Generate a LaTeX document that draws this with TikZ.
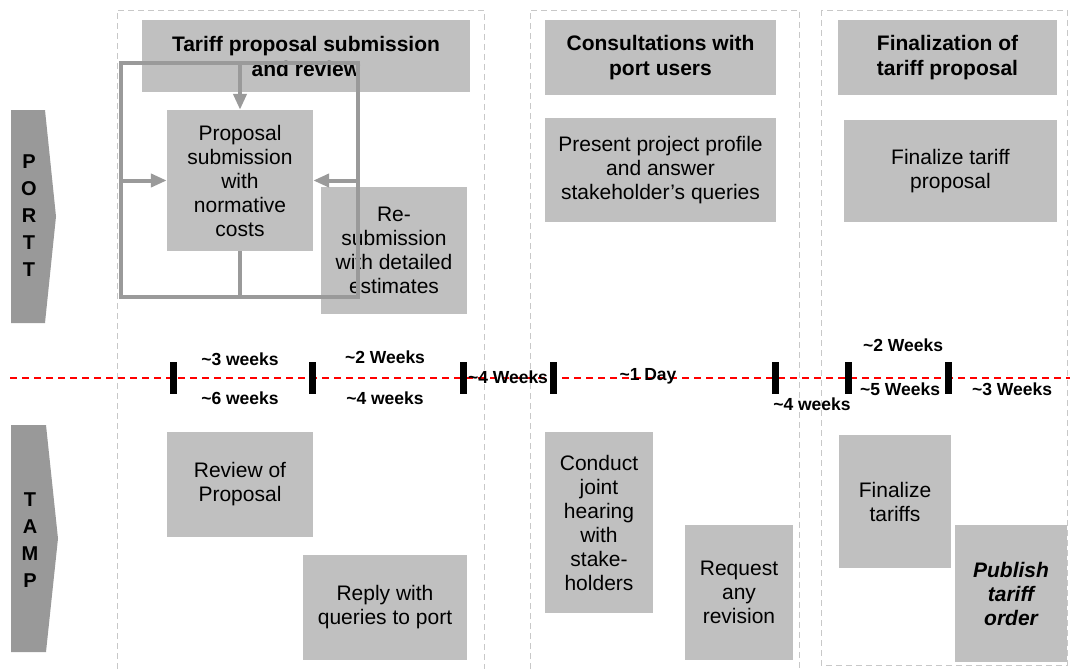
\documentclass[tikz,border=0pt]{standalone}
\usepackage{fontspec}
\setmainfont{Liberation Sans}
\usepackage{xcolor}
\usepackage{tikz}
\usetikzlibrary{positioning,arrows.meta}

\definecolor{boxgray}{HTML}{C0C0C0}
\definecolor{lanegray}{HTML}{999999}
\definecolor{loopgray}{HTML}{9A9A9A}
\definecolor{framegray}{HTML}{C8C8C8}
\newcommand{\appr}{\textasciitilde}

\begin{document}
\begin{tikzpicture}[
  x=1pt, y=-1pt,
  box/.style={rectangle, fill=boxgray, inner sep=0pt, align=center, font=\fontsize{21}{24}\selectfont},
  headbox/.style={box, font=\bfseries\fontsize{21}{25}\selectfont},
  lane/.style={fill=lanegray},
  lanetext/.style={align=center, inner sep=0pt, font=\bfseries\fontsize{20}{27}\selectfont},
  colframe/.style={draw=framegray, dash pattern=on 6pt off 4pt, line width=0.9pt},
  timeline/.style={draw=red, dash pattern=on 7pt off 5pt, line width=1.5pt},
  tickbar/.style={rectangle, fill=black, inner sep=0pt, minimum width=7pt, minimum height=32pt},
  dur/.style={font=\bfseries\fontsize{17.5}{19}\selectfont, inner sep=0pt},
  loopline/.style={draw=loopgray, line width=4pt},
  looparrow/.style={loopline, -{Triangle[length=16pt, width=13pt]}}
  ]
  \useasboundingbox (0,0) rectangle (1070,669);

  % column frames
  \draw[colframe] (117,669) |- (484,10) -- (484,669);
  \draw[colframe] (530,669) |- (799,10) -- (799,669);
  \draw[colframe] (821,10) rectangle (1067,665);

  % lanes
  \fill[lane] (11,110) -- (45,110) -- (56,216.5) -- (45,323) -- (11,323) -- cycle;
  \fill[lane] (11,425) -- (46,425) -- (58,538.5) -- (46,652) -- (11,652) -- cycle;
  \node[lanetext] (portt) at (29,216) {P\\O\\R\\T\\T};
  \node[lanetext] (tamp) at (30,540) {T\\A\\M\\P};

  % headers
  \node[headbox, minimum width=328pt, minimum height=72pt] (head1) at (306,56) {Tariff proposal submission\\and review};
  \node[headbox, minimum width=231pt, minimum height=75pt] (head2) at (660.5,57.5) {Consultations with\\port users};
  \node[headbox, minimum width=219pt, minimum height=75pt] (head3) at (947.5,57.5) {Finalization of\\tariff proposal};

  % port activities
  \node[box, minimum width=146pt, minimum height=141pt] (prop) at (240,180.5) {Proposal\\submission\\with\\normative\\costs};
  \node[box, minimum width=146pt, minimum height=127pt] (resub) at (394,250.5) {Re-\\submission\\with detailed\\estimates};
  \node[box, minimum width=231pt, minimum height=104pt] (present) at (660.5,170) {Present project profile\\and answer\\stakeholder’s queries};
  \node[box, minimum width=213pt, minimum height=102pt] (finprop) at (950.5,171) {Finalize tariff\\proposal};

  % review loop
  \coordinate (fnw) at (121,63);
  \coordinate (fse) at (358,297);
  \draw[loopline] (fnw) rectangle (fse);
  \draw[loopline] (prop.south) -- (prop.south |- fse);
  \draw[looparrow] (prop.north |- fnw) -- (prop.north);
  \draw[looparrow] (prop.west -| fnw) -- (prop.west);
  \draw[looparrow] (prop.east -| fse) -- (prop.east);

  % timeline
  \coordinate (tlstart) at (10,378);
  \coordinate (tlend) at (1070,378);
  \draw[timeline] (tlstart) -- (tlend);
  \node[tickbar] (t1) at (173,378) {};
  \node[tickbar] (t2) at (312,378) {};
  \node[tickbar] (t3) at (463,378) {};
  \node[tickbar] (t4) at (553,378) {};
  \node[tickbar] (t5) at (775,378) {};
  \node[tickbar] (t6) at (848,378) {};
  \node[tickbar] (t7) at (948,378) {};
  \node[dur] (d1a) at (240,359) {\appr3 weeks};
  \node[dur] (d1b) at (240,398) {\appr6 weeks};
  \node[dur] (d2a) at (385,357) {\appr2 Weeks};
  \node[dur] (d2b) at (385,398) {\appr4 weeks};
  \node[dur] (d3) at (508,377) {\appr4 Weeks};
  \node[dur] (d4) at (648,376) {\appr1 Day};
  \node[dur] (d5) at (812,404) {\appr4 weeks};
  \node[dur] (d6a) at (903,345) {\appr2 Weeks};
  \node[dur] (d6b) at (900,389) {\appr5 Weeks};
  \node[dur] (d7) at (1012,389) {\appr3 Weeks};

  % TAMP activities
  \node[box, minimum width=146pt, minimum height=105pt] (review) at (240,484.5) {Review of\\Proposal};
  \node[box, minimum width=164pt, minimum height=105pt] (reply) at (385,607.5) {Reply with\\queries to port};
  \node[box, minimum width=108pt, minimum height=181pt] (hearing) at (599,522.5) {Conduct\\joint\\hearing\\with\\stake-\\holders};
  \node[box, minimum width=108pt, minimum height=135pt] (revision) at (739,592.5) {Request\\any\\revision};
  \node[box, minimum width=112pt, minimum height=133pt] (fintar) at (895,501.5) {Finalize\\tariffs};
  \node[box, minimum width=112pt, minimum height=137pt, font=\bfseries\itshape\fontsize{21}{24}\selectfont] (publish) at (1011,593.5) {Publish\\tariff\\order};
\end{tikzpicture}
\end{document}
